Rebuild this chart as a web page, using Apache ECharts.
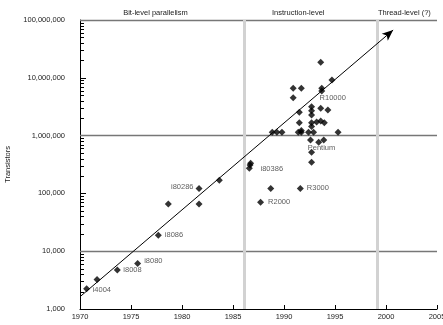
<!DOCTYPE html>
<html><head><meta charset="utf-8">
<script src="https://cdn.jsdelivr.net/npm/echarts@6/dist/echarts.min.js"></script>
<style>html,body{margin:0;padding:0;background:#fff}#c{width:443px;height:325px}</style>
</head><body><div id="c"></div>
<script>
// ---- data ----
const pointYears = [1970.65,1971.67,1973.66,1975.65,1977.68,1978.66,1981.67,1981.67,1983.66,
  1986.6,1986.67,1986.73,1987.7,1988.7,1991.6,1992.7,1992.7,1992.6,1993.4,1993.9,
  1988.85,1989.3,1989.8,1991.4,1991.7,1991.7,1992.4,1992.9,1995.3,
  1992.7,1991.5,1992.7,1993.2,1993.6,1993.95,
  1991.5,1992.7,1992.7,1992.7,1993.6,1994.3,
  1990.9,1990.9,1991.7,1993.7,1993.7,1994.7,1993.6];
const pointCounts = [2250,3250,4730,6150,18800,65600,122000,65600,169000,
  272000,310000,332000,70000,122000,122000,345000,514000,839000,765000,839000,
  1140000,1140000,1140000,1140000,1140000,1220000,1140000,1140000,1140000,
  1430000,1670000,1670000,1720000,1790000,1670000,
  2530000,2270000,2700000,3160000,2970000,2770000,
  4530000,6580000,6580000,6580000,5910000,9160000,18500000];
const pointNames = ['i4004','','i8008','i8080','i8086','','i80286','','',
  '','i80386','','R2000','','R3000','','','Pentium','','',
  '','','','','','','','','',
  '','','','','','',
  '','','','','','',
  '','','','','R10000','',''];
const trendYears = [1970, 2000.7];
const trendCounts = [1630, 67000000];
const eraBoundaries = [1986.1, 1999.1];
const eraNames = ['Bit-level parallelism', 'Instruction-level', 'Thread-level (?)'];
const eraLabelYears = [1977.4, 1991.4, 2001.8];
const refLines = [10000, 1000000, 100000000];
const yearTicks = [1970, 1975, 1980, 1985, 1990, 1995, 2000, 2005];
const yTickLabels = ['1,000','10,000','100,000','1,000,000','10,000,000','100,000,000'];

// ---- styling / layout ----
const FONT = 'Liberation Sans, Arial, Helvetica, sans-serif';
const FS = 7.5;
const labelPlacement = {
  i4004: {position:'right', offset:[-2.5,1]},
  i8008: {position:'right', offset:[-2.5,0]},
  i8080: {position:'right', offset:[-2,-2]},
  i8086: {position:'right', offset:[-2,0]},
  i80286: {position:'left', offset:[3,-1]},
  i80386: {position:'right', offset:[2,4]},
  R2000: {position:'right', offset:[-1,0]},
  R3000: {position:'right', offset:[-2,0]},
  Pentium: {position:'bottom', offset:[11,-5]},
  R10000: {position:'bottom', offset:[11,-6]}
};
const minorTickValues = [];
for (let d = 1000; d < 100000000; d *= 10) for (let m = 2; m <= 9; m++) minorTickValues.push(d * m);

const points = pointYears.map((y, i) => {
  const item = {value: [y, pointCounts[i]]};
  const nm = pointNames[i];
  if (nm) {
    const p = labelPlacement[nm];
    item.label = {show: true, formatter: nm, position: p.position, offset: p.offset, distance: 5,
      fontFamily: FONT, fontSize: FS, color: '#333'};
  }
  return item;
});

const chart = echarts.init(document.getElementById('c'), null, {renderer: 'canvas'});
const option = {
  animation: false,
  backgroundColor: '#fff',
  grid: {left: 80, right: 6, top: 20, bottom: 16, containLabel: false, outerBoundsMode: 'none'},
  xAxis: {
    type: 'value', min: yearTicks[0], max: yearTicks[yearTicks.length-1], interval: 5,
    axisLine: {lineStyle: {color: '#000', width: 1}},
    axisTick: {inside: true, length: 4, lineStyle: {color: '#000'}},
    axisLabel: {fontFamily: FONT, fontSize: FS, color: '#222', margin: 4, formatter: v => String(v)},
    splitLine: {show: false}
  },
  yAxis: {
    type: 'log', logBase: 10, min: 1000, max: 100000000, position: 'left',
    name: 'Transistors', nameLocation: 'middle', nameGap: 68, nameRotate: 90,
    nameTextStyle: {fontFamily: FONT, fontSize: FS, color: '#222'},
    axisLine: {show: true, lineStyle: {color: '#000', width: 1}},
    axisTick: {show: true, inside: true, length: 6, lineStyle: {color: '#000', width: 1}},
    axisLabel: {fontFamily: FONT, fontSize: FS, color: '#222', margin: 15,
      formatter: v => yTickLabels[Math.round(Math.log10(v)) - 3] || ''},
    splitLine: {show: false}
  },
  series: [{
    type: 'scatter', z: 5,
    symbol: 'diamond', symbolSize: 7,
    itemStyle: {color: '#000'},
    data: points,
    markLine: {
      silent: true, symbol: 'none', label: {show: false}, z: 1,
      data: [
        ...refLines.map(v => ({yAxis: v, lineStyle: {color: '#777', width: 1.3, type: 'solid'}})),
        ...eraBoundaries.map(v => ({xAxis: v, lineStyle: {color: '#d2d2d2', width: 3, type: 'solid'}}))
      ]
    }
  }, {
    type: 'line', data: [], z: 6,
    markLine: {
      silent: true, label: {show: false}, animation: false,
      lineStyle: {color: '#000', width: 1, type: 'solid'},
      data: [[
        {coord: [trendYears[0], trendCounts[0]], symbol: 'none'},
        {coord: [trendYears[1], trendCounts[1]], symbol: 'arrow', symbolSize: [7, 11]}
      ]]
    }
  }, {
    type: 'custom', z: 7, silent: true, clip: false,
    data: minorTickValues.map(v => [yearTicks[0], v]),
    renderItem: (params, api) => {
      const p = api.coord([api.value(0), api.value(1)]);
      const x = Math.round(p[0]), y = Math.round(p[1]) + 0.5;
      return {type: 'line', shape: {x1: x, y1: y, x2: x + 4, y2: y},
        style: {stroke: '#000', lineWidth: 1}};
    }
  }]
};
chart.setOption(option);
const eraGraphics = eraNames.map((t, i) => {
  const px = chart.convertToPixel({xAxisIndex: 0}, eraLabelYears[i]);
  return {type: 'text', x: px, y: 13, style: {text: t, fontFamily: FONT, fontSize: FS, fill: '#222',
    textAlign: 'center', textVerticalAlign: 'middle'}};
});
chart.setOption({graphic: eraGraphics});
</script></body></html>
